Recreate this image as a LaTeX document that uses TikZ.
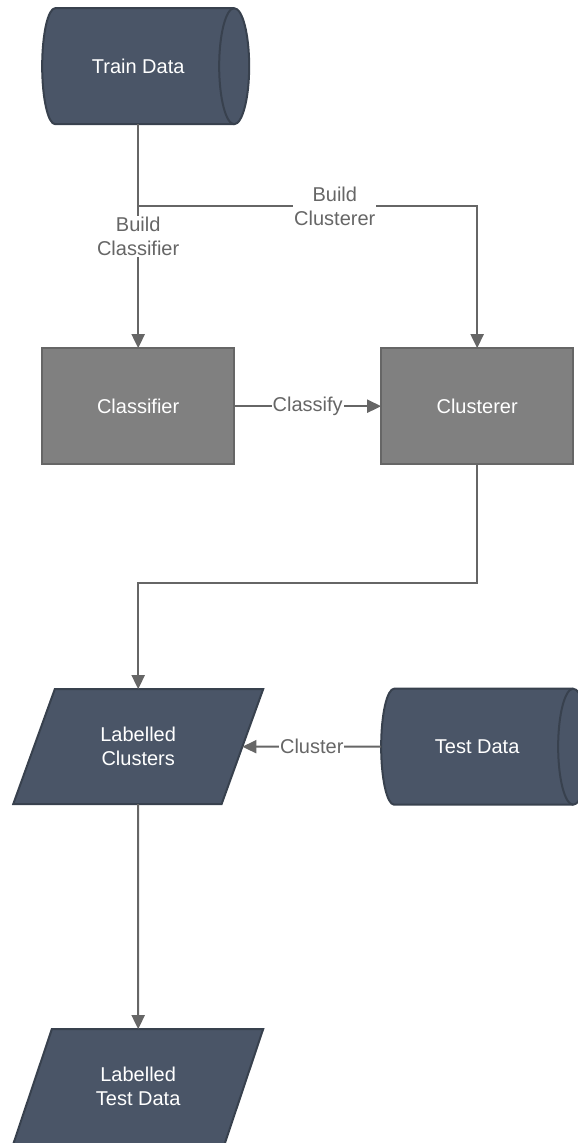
\documentclass[tikz,border=0pt]{standalone}
\usepackage{fontspec}
\setmainfont{Liberation Sans}
\usetikzlibrary{matrix, arrows.meta, shapes.geometric, backgrounds}
\definecolor{slatefill}{HTML}{4A5567}
\definecolor{slateline}{HTML}{38414E}
\definecolor{boxfill}{HTML}{808080}
\definecolor{flowgray}{HTML}{666666}

\begin{document}
\begin{tikzpicture} [x=1pt, y=1pt,
  every node/.style = {font=\fontsize{20}{24}\selectfont},
  store/.style = {rectangle, anchor=center, outer sep=0pt,
    minimum width=192pt, minimum height=116pt, text=white},
  storeline/.style = {fill=slatefill, draw=slateline, line width=2pt},
  proc/.style = {rectangle, anchor=center, outer sep=0pt, fill=boxfill, draw=flowgray, line width=2pt,
    minimum width=192pt, minimum height=116pt, text=white},
  result/.style = {trapezium, anchor=center, outer sep=0pt, trapezium left angle=64, trapezium right angle=116,
    trapezium stretches=true, fill=slatefill, draw=slateline, line width=2pt,
    minimum width=250pt, minimum height=115pt, text=white, align=center},
  flow/.style = {draw=flowgray, line width=2pt, -{Triangle[length=14pt, width=13pt]}},
  lbl/.style = {fill=white, text=flowgray, inner sep=1pt, align=center}]
\useasboundingbox (0,0) rectangle (578,-1143);
\matrix (m) [matrix of nodes, anchor=north west, inner sep=0pt, column sep = 116pt, row sep = 223pt] at (12,-8) {
\node[store](train){Train Data}; & \\
\node[proc](classifier){Classifier}; & \node[proc](clusterer){Clusterer}; \\
\node[result](lclusters){Labelled\\Clusters}; & \node[store](test){Test Data}; \\
\node[result](ltest){Labelled\\Test Data}; & \\
};
% storage outlines behind the text
\begin{scope}[on background layer]
\foreach \n in {train, test} {
  \filldraw [storeline] ([xshift=13pt]\n.north west) -- (\n.north east)
    arc[start angle=90, end angle=-90, x radius=15pt, y radius=58pt]
    -- ([xshift=13pt]\n.south west)
    arc[start angle=270, end angle=90, x radius=13pt, y radius=58pt] -- cycle;
  \draw [storeline, fill=none] (\n.north east) arc[start angle=90, end angle=270, x radius=15pt, y radius=58pt];
}
\end{scope}
\draw [flow] (train.south) -- node[lbl, pos = .5]{Build\\Classifier} (classifier);
\draw [flow] (train.south) -- ++(0,-82) -| (clusterer.north) node[lbl, pos = .29]{Build\\Clusterer};
\draw [flow] (classifier) -- (clusterer) node[lbl, pos = .5]{Classify};
\draw [flow] (clusterer.south) -- ++(0,-119) -| (lclusters.north);
\draw [flow] (test) -- (lclusters) node[lbl, pos = .5]{Cluster};
\draw [flow] (lclusters) -- (ltest);
\end{tikzpicture}
\end{document}
